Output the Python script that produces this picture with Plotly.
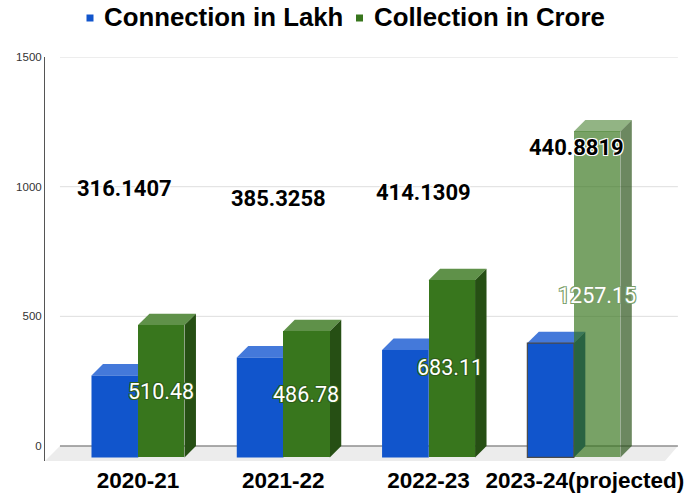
import plotly.graph_objects as go

# ---------------- data ----------------
categories = ["2020-21", "2021-22", "2022-23", "2023-24(projected)"]
connection = [316.1407, 385.3258, 414.1309, 440.8819]   # Connection in Lakh
collection = [510.48, 486.78, 683.11, 1257.15]          # Collection in Crore
y_ticks = [0, 500, 1000, 1500]
series_names = ["Connection in Lakh", "Collection in Crore"]

# ---------------- styling / geometry ----------------
BLUE = {"front": "#1155cc", "top": "#4479da", "side": "#0b3c90"}
GREEN = {"front": "#38761d", "top": "#5f9149", "side": "#264f14"}
BAR_W = 0.32          # width of each bar's front face (category units)
DX = 0.079            # 3D depth, horizontal (category units)
DY = 44.0             # 3D depth, vertical (value units)
FLOOR = 57.85         # floor front edge below zero (value units)
X_RANGE = [-0.640, 3.765]
Y_RANGE = [-FLOOR, 1500.2]
BACK_L, BACK_R = -0.537, 3.716
FRONT_L, FRONT_R = -0.640, 3.627
PROJ_ALPHA = 0.68


def rgba(hx, a=1.0):
    hx = hx.lstrip("#")
    r, g, b = int(hx[0:2], 16), int(hx[2:4], 16), int(hx[4:6], 16)
    return f"rgba({r},{g},{b},{a})"


alphas = [PROJ_ALPHA if "projected" in c else 1.0 for c in categories]
idx = list(range(len(categories)))

fig = go.Figure()

shapes = []
# floor
shapes.append(dict(type="path", xref="x", yref="y", layer="between",
                   path=f"M {FRONT_L},{-FLOOR} L {BACK_L},0 L {BACK_R},0 L {FRONT_R},{-FLOOR} Z",
                   fillcolor="#ececec", line=dict(width=0)))
# back-wall gridlines
for t in y_ticks:
    shapes.append(dict(type="line", xref="x", yref="y", layer="between",
                       x0=BACK_L, x1=BACK_R, y0=t, y1=t,
                       line=dict(color="#8f8f8f" if t == 0 else "#dedede", width=1.3 if t == 0 else 1)))


def faces(xc, v, pal, a):
    x0, x1 = xc - BAR_W / 2, xc + BAR_W / 2
    top = dict(type="path", xref="x", yref="y", layer="between",
               path=f"M {x0},{v - DY} L {x1},{v - DY} L {x1 + DX},{v} L {x0 + DX},{v} Z",
               fillcolor=rgba(pal["top"], a), line=dict(width=0))
    side = dict(type="path", xref="x", yref="y", layer="between",
                path=f"M {x1},{-DY} L {x1},{v - DY} L {x1 + DX},{v} L {x1 + DX},0 Z",
                fillcolor=rgba(pal["side"], a), line=dict(width=0))
    return [top, side]


for i in idx:
    shapes += faces(i - BAR_W / 2, connection[i], BLUE, 1.0)
    shapes += faces(i + BAR_W / 2, collection[i], GREEN, alphas[i])

# front faces
fig.add_trace(go.Bar(
    x=[i - BAR_W / 2 for i in idx], y=connection, base=-DY, width=BAR_W,
    name=series_names[0], showlegend=False, hoverinfo="skip",
    marker=dict(color=BLUE["front"],
                line=dict(color="#4a4a4a", width=[1.2 if "projected" in c else 0 for c in categories])),
))
fig.add_trace(go.Bar(
    x=[i + BAR_W / 2 for i in idx], y=collection, base=-DY, width=BAR_W,
    name=series_names[1], showlegend=False, hoverinfo="skip",
    marker=dict(color=[rgba(GREEN["front"], a) for a in alphas], line=dict(width=0)),
))

annotations = []
# connection value labels (placed where the reference shows them)
conn_lab_pos = [(-0.096, 995), (0.970, 953), (1.968, 976), (3.021, 1153)]
for i in idx:
    annotations.append(dict(
        x=conn_lab_pos[i][0], y=conn_lab_pos[i][1], xref="x", yref="y",
        text=f"{connection[i]:.4f}", showarrow=False, borderpad=0,
        font=dict(family="Roboto", size=22, color="#000000", weight="bold",
                  shadow="-1px -1px 0 #fff, 1px -1px 0 #fff, -1px 1px 0 #fff, 1px 1px 0 #fff"),
    ))
# collection value labels
coll_lab_pos = [(0.158, 212), (1.156, 200), (2.147, 301), (3.159, 582)]
for i in idx:
    oc = "#7a9e68" if alphas[i] < 1 else "#2f5e1a"
    annotations.append(dict(
        x=coll_lab_pos[i][0], y=coll_lab_pos[i][1], xref="x", yref="y",
        text=f"{collection[i]:.2f}", showarrow=False, borderpad=0,
        font=dict(family="Roboto", size=21.5, color="#ffffff",
                  shadow=f"-1px -1px 0 {oc}, 1px -1px 0 {oc}, -1px 1px 0 {oc}, 1px 1px 0 {oc}"),
    ))

# custom legend (paper coords: plot area is x 45..685 px, y 57..461 px)
def px_x(p):
    return (p - 45) / 640.0


def px_y(p):
    return (461 - p) / 404.0


legend_items = [(90.0, 103, BLUE["front"], series_names[0]),
                (359.5, 373, GREEN["front"], series_names[1])]
for sq_x, tx, col, name in legend_items:
    shapes.append(dict(type="rect", xref="paper", yref="paper",
                       x0=px_x(sq_x - 3.5), x1=px_x(sq_x + 3.5),
                       y0=px_y(21.5), y1=px_y(14.5),
                       fillcolor=col, line=dict(width=0)))
    annotations.append(dict(x=px_x(tx), y=px_y(17.0), xref="paper", yref="paper",
                            xanchor="left", yanchor="middle", text=name, showarrow=False,
                            borderpad=0,
                            font=dict(family="Liberation Sans, Arial", size=25.8,
                                      color="#000000", weight="bold")))

tickvals = [i + (0.076 if "projected" in c else 0) for i, c in zip(idx, categories)]

fig.update_layout(
    width=685, height=496,
    margin=dict(l=45, r=0, t=57, b=35, autoexpand=False),
    paper_bgcolor="white", plot_bgcolor="white",
    barmode="overlay", bargap=0,
    showlegend=False,
    shapes=shapes, annotations=annotations,
    xaxis=dict(range=X_RANGE, tickvals=tickvals, ticktext=categories,
               showgrid=False, zeroline=False, showline=False, ticks="",
               automargin=False, ticklabelstandoff=3,
               tickfont=dict(family="Liberation Sans, Arial", size=22.5, color="#000000", weight="bold"),
               fixedrange=True),
    yaxis=dict(range=Y_RANGE, tickvals=y_ticks, ticktext=[str(t) for t in y_ticks],
               showgrid=False, zeroline=False, showline=True, linecolor="#555555", linewidth=1,
               ticks="", automargin=False,
               tickfont=dict(family="Liberation Sans, Arial", size=11.5, color="#333333"),
               fixedrange=True),
)

fig.write_html("out.html",
               config={"displayModeBar": False, "staticPlot": True},
               post_script="document.body.style.margin='0';document.body.style.padding='0';")
